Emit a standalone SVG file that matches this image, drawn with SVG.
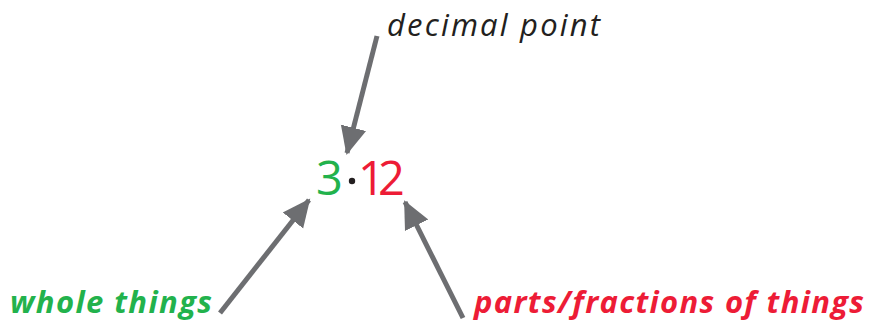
<svg xmlns="http://www.w3.org/2000/svg" width="870" height="325" viewBox="0 0 870 325">
<defs>
<style>
.lbl{font-family:"Open Sans","DejaVu Sans",sans-serif;font-style:italic;font-size:31px}
.num{font-family:"Open Sans","DejaVu Sans",sans-serif;font-size:47px}
.conn{stroke:#6d6e71;stroke-width:5;fill:none;marker-end:url(#ah)}
</style>
<marker id="ah" markerUnits="userSpaceOnUse" markerWidth="30" markerHeight="30" refX="26" refY="13" orient="auto" viewBox="0 0 30 26">
<path d="M0,0 L28,13 L0,26 Z" fill="#6d6e71"/>
</marker>
</defs>
<rect width="870" height="325" fill="#fff"/>
<g id="connectors">
<line class="conn" x1="377" y1="36" x2="347" y2="153"/>
<line class="conn" x1="220" y1="313" x2="309" y2="200"/>
<line class="conn" x1="463" y1="318" x2="405" y2="202"/>
</g>
<g id="decimal-label"><text class="lbl" x="387" y="36" fill="#231f20" font-size="32" textLength="213">decimal point</text></g>
<g id="number">
<text class="num" x="316" y="195" fill="#22b24c">3</text>
<circle cx="352" cy="181" r="3.2" fill="#231f20"/>
<text class="num" x="358 378" y="195" fill="#ed1c36">12</text>
</g>
<g id="whole-label"><text class="lbl" x="10" y="313" fill="#22b24c" font-weight="bold" textLength="202">whole things</text></g>
<g id="parts-label"><text class="lbl" x="474" y="313" fill="#ed1c36" font-weight="bold" textLength="390">parts/fractions of things</text></g>
</svg>
